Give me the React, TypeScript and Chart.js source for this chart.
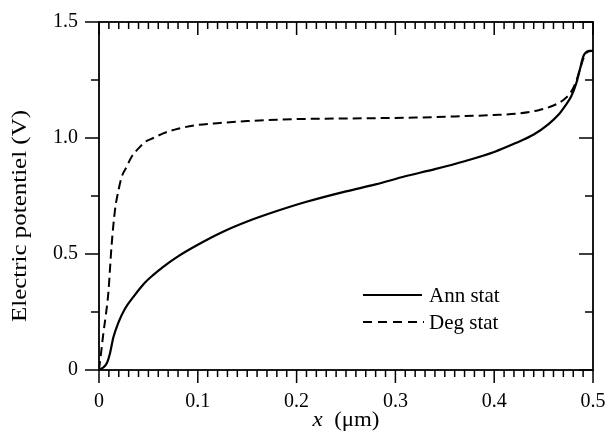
import React, { useEffect, useRef } from 'react';
import { Chart, registerables } from 'chart.js';

Chart.register(...registerables);

// ---- data ----
const seriesNames = ['Ann stat', 'Deg stat'];

const annX = [0, 0.004, 0.008, 0.011, 0.0145, 0.0195, 0.026, 0.036, 0.045, 0.055, 0.065, 0.08, 0.1, 0.125, 0.15, 0.18, 0.21, 0.25, 0.28, 0.31, 0.34, 0.37, 0.4, 0.42, 0.44, 0.455, 0.465, 0.472, 0.478, 0.483, 0.487, 0.49, 0.493, 0.496, 0.5];
const annY = [0, 0.01, 0.03, 0.07, 0.14, 0.203, 0.262, 0.322, 0.37, 0.41, 0.445, 0.49, 0.54, 0.595, 0.64, 0.685, 0.725, 0.77, 0.8, 0.835, 0.866, 0.9, 0.94, 0.975, 1.015, 1.06, 1.1, 1.14, 1.18, 1.235, 1.3, 1.35, 1.37, 1.376, 1.376];

const degX = [0, 0.002, 0.0044, 0.007, 0.0094, 0.0128, 0.0162, 0.02, 0.023, 0.028, 0.033, 0.04, 0.047, 0.055, 0.065, 0.08, 0.1, 0.12, 0.15, 0.18, 0.22, 0.27, 0.32, 0.36, 0.4, 0.425, 0.445, 0.46, 0.47, 0.478, 0.483, 0.487, 0.491, 0.495, 0.5];
const degY = [0, 0.07, 0.158, 0.24, 0.33, 0.54, 0.69, 0.78, 0.833, 0.876, 0.919, 0.955, 0.984, 1.0, 1.02, 1.04, 1.056, 1.064, 1.073, 1.079, 1.083, 1.085, 1.088, 1.093, 1.099, 1.106, 1.12, 1.14, 1.164, 1.2, 1.245, 1.3, 1.35, 1.372, 1.376];

const xTickValues = [0, 0.1, 0.2, 0.3, 0.4, 0.5];
const xTickLabels = ['0', '0.1', '0.2', '0.3', '0.4', '0.5'];
const yTickValues = [0, 0.5, 1.0, 1.5];
const yTickLabels = ['0', '0.5', '1.0', '1.5'];
const xMinorStep = 0.01;
const yMinorStep = 0.25;

const yTitle = 'Electric potentiel (V)';
const xTitleVar = 'x';
const xTitleUnit = '(\u03BCm)';

const FONT = "'Liberation Serif', 'Times New Roman', serif";

function labelFor(values: number[], labels: string[], v: number): string {
  const i = values.findIndex((t) => Math.abs(t - v) < 1e-9);
  return i >= 0 ? labels[i] : '';
}

const framePlugin = {
  id: 'framePlugin',
  afterDraw(chart: any) {
    const { ctx, chartArea: a } = chart;
    const xs = chart.scales.x;
    const ys = chart.scales.y;
    ctx.save();
    ctx.strokeStyle = '#000';
    ctx.fillStyle = '#000';
    ctx.lineWidth = 1.8;
    ctx.lineCap = 'butt';
    ctx.strokeRect(a.left, a.top, a.right - a.left, a.bottom - a.top);

    ctx.lineWidth = 1.5;
    // x ticks: bottom outward, top inward
    const nx = Math.round((xs.max - xs.min) / xMinorStep);
    for (let i = 0; i <= nx; i++) {
      const v = xs.min + i * xMinorStep;
      const px = xs.getPixelForValue(v);
      const major = i % 10 === 0;
      const L = major ? 13 : 7;
      ctx.beginPath();
      ctx.moveTo(px, a.bottom);
      ctx.lineTo(px, a.bottom + L);
      ctx.moveTo(px, a.top);
      ctx.lineTo(px, a.top + L);
      ctx.stroke();
    }
    // y ticks: left outward, right inward
    const ny = Math.round((ys.max - ys.min) / yMinorStep);
    for (let i = 0; i <= ny; i++) {
      const v = ys.min + i * yMinorStep;
      const py = ys.getPixelForValue(v);
      const major = i % 2 === 0;
      const L = major ? 14 : 8;
      ctx.beginPath();
      ctx.moveTo(a.left, py);
      ctx.lineTo(a.left - L, py);
      ctx.moveTo(a.right, py);
      ctx.lineTo(a.right - L, py);
      ctx.stroke();
    }

    // legend
    const lx0 = a.left + 264;
    const lx1 = a.left + 323;
    const ly0 = a.top + 273;
    const ly1 = a.top + 300;
    ctx.lineWidth = 2;
    ctx.beginPath();
    ctx.setLineDash([]);
    ctx.moveTo(lx0, ly0);
    ctx.lineTo(lx1, ly0);
    ctx.stroke();
    ctx.beginPath();
    ctx.setLineDash([9, 6]);
    ctx.moveTo(lx0, ly1);
    ctx.lineTo(lx1 + 2, ly1);
    ctx.stroke();
    ctx.setLineDash([]);
    ctx.font = `21px ${FONT}`;
    ctx.textAlign = 'left';
    ctx.textBaseline = 'middle';
    ctx.fillText(seriesNames[0], lx1 + 7, ly0 + 1);
    ctx.fillText(seriesNames[1], lx1 + 7, ly1 + 1);

    // x title (italic variable + unit), stretched to reference width
    const cx = (a.left + a.right) / 2;
    const ty = 420;
    ctx.font = `italic 21px ${FONT}`;
    const w1 = ctx.measureText(xTitleVar + '  ').width;
    ctx.font = `21px ${FONT}`;
    const w2 = ctx.measureText(xTitleUnit).width;
    const xs2 = 67 / (w1 + w2);
    ctx.save();
    ctx.translate(cx, ty);
    ctx.scale(xs2, 1);
    const start = -(w1 + w2) / 2;
    ctx.font = `italic 21px ${FONT}`;
    ctx.fillText(xTitleVar, start, 0);
    ctx.font = `21px ${FONT}`;
    ctx.fillText(xTitleUnit, start + w1, 0);
    ctx.restore();

    // y title
    ctx.save();
    ctx.translate(21, (a.top + a.bottom) / 2 + 20);
    ctx.rotate(-Math.PI / 2);
    ctx.textAlign = 'center';
    ctx.textBaseline = 'middle';
    ctx.font = `20px ${FONT}`;
    const wy = ctx.measureText(yTitle).width;
    ctx.scale(212 / wy, 1);
    ctx.fillText(yTitle, 0, 0);
    ctx.restore();

    ctx.restore();
  },
};

export default function App() {
  const canvasRef = useRef<HTMLCanvasElement | null>(null);

  useEffect(() => {
    const canvas = canvasRef.current;
    if (!canvas) return;
    const chart = new Chart(canvas, {
      type: 'line',
      data: {
        datasets: [
          {
            label: seriesNames[0],
            data: annX.map((x, i) => ({ x, y: annY[i] })),
            borderColor: '#000',
            borderWidth: 2.2,
            pointRadius: 0,
            fill: false,
            cubicInterpolationMode: 'monotone',
          },
          {
            label: seriesNames[1],
            data: degX.map((x, i) => ({ x, y: degY[i] })),
            borderColor: '#000',
            borderWidth: 2,
            borderDash: [9, 5],
            pointRadius: 0,
            fill: false,
            cubicInterpolationMode: 'monotone',
          },
        ],
      },
      options: {
        responsive: false,
        animation: false,
        layout: { padding: { top: 22, right: 16, left: 0, bottom: 0 } },
        plugins: {
          legend: { display: false },
          tooltip: { enabled: false },
        },
        scales: {
          x: {
            type: 'linear',
            min: 0,
            max: 0.5,
            grid: { display: false, drawTicks: false },
            border: { display: false },
            ticks: {
              stepSize: 0.1,
              padding: 20,
              color: '#000',
              font: { family: FONT, size: 20 },
              maxRotation: 0,
              callback: (v: any) => labelFor(xTickValues, xTickLabels, Number(v)),
            },
            afterFit: (s: any) => {
              s.height = 71;
              s.paddingLeft = 0;
              s.paddingRight = 0;
            },
          },
          y: {
            type: 'linear',
            min: 0,
            max: 1.5,
            grid: { display: false, drawTicks: false },
            border: { display: false },
            ticks: {
              stepSize: 0.5,
              padding: 21,
              color: '#000',
              font: { family: FONT, size: 20 },
              callback: (v: any) => labelFor(yTickValues, yTickLabels, Number(v)),
            },
            afterFit: (s: any) => {
              s.width = 99;
              s.paddingTop = 0;
              s.paddingBottom = 0;
            },
          },
        },
      },
      plugins: [framePlugin],
    });
    return () => chart.destroy();
  }, []);

  return (
    <div style={{ position: 'absolute', left: 0, top: 0, width: 609, height: 441, background: '#fff' }}>
      <canvas ref={canvasRef} width={609} height={441} style={{ display: 'block' }} />
    </div>
  );
}
